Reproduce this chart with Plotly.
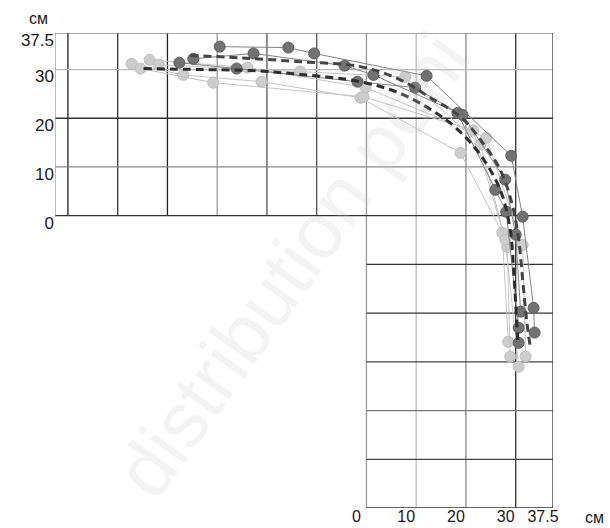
import plotly.graph_objects as go

# ---- data (cm) ----
tick_vals = [0, 10, 20, 30, 37.5]
tick_text = ["0", "10", "20", "30", "37.5"]

dark1_x = [-29.5, -15.7, -10.5, 12.1, 29.1, 31.4, 33.6, 33.8]
dark1_y = [34.7, 34.5, 33.3, 28.7, 12.3, -0.2, -18.9, -24.0]
dark2_x = [-37.6, -26.1, -1.8, 9.8, 18.3, 25.9, 28.1, 30.6, 30.6]
dark2_y = [31.4, 30.2, 27.5, 26.3, 21.1, 5.3, 0.8, -23.0, -26.1]
dark3_x = [-34.8, -22.7, -4.4, 1.4, 19.3, 27.9, 30.0, 31.0]
dark3_y = [32.2, 33.3, 30.8, 28.9, 20.7, 7.4, -3.9, -19.7]

light1_x = [-47.2, -36.8, -21.1, -1.2, 18.9, 27.3, 28.5]
light1_y = [31.2, 28.9, 27.5, 24.2, 12.9, -3.5, -25.9]
light2_x = [-45.4, -30.8, -0.6, 21.5, 28.3, 28.9]
light2_y = [30.2, 27.3, 24.4, 17.5, -6.4, -28.9]
light3_x = [-43.6, -23.9, -0.2, 24.1, 31.4, 32.0]
light3_y = [32.0, 30.4, 26.3, 16.0, -6.0, -28.9]
light4_x = [-41.8, -13.3, 7.8, 22.9, 27.9, 30.6]
light4_y = [31.0, 29.6, 28.5, 14.6, -4.9, -31.0]

meanA_x = [-35.4, -25.3, -13.3, -1.2, 6.8, 12.9, 18.9, 22.9, 26.9, 29.3, 30.6, 31.4, 32.2, 33.0]
meanA_y = [32.9, 32.4, 31.6, 30.6, 27.9, 24.2, 20.3, 15.6, 9.4, 2.3, -4.9, -13.1, -21.4, -27.5]
meanB_x = [-44.8, -33.4, -23.3, -13.3, -1.2, 6.8, 12.9, 17.9, 22.9, 26.9, 28.9, 29.7, 30.4]
meanB_y = [30.2, 30.0, 29.8, 29.0, 27.5, 25.1, 21.8, 18.1, 12.5, 5.3, -2.9, -13.1, -25.5]

# grid
x_min, x_max = -62.6, 37.5
y_min, y_max = -60.0, 37.5
top_vlines = [-60, -50, -40, -30, -20, -10]
top_vcolors = ["#222", "#333", "#222", "#999", "#555", "#555"]
full_vlines = [0, 10, 20, 30]
full_vcolors = ["#999", "#bbb", "#888", "#333"]
top_hlines = [10, 20, 30]
top_hcolors = ["#888", "#333", "#bbb"]
bot_hlines = [-10, -20, -30, -40, -50]
bot_hcolors = ["#333", "#333", "#444", "#777", "#444"]

fig = go.Figure()

shapes = []
def seg(x0, y0, x1, y1, c, w=1.3):
    shapes.append(dict(type="line", xref="x", yref="y", x0=x0, y0=y0, x1=x1, y1=y1,
                       line=dict(color=c, width=w), layer="below"))

for v, c in zip(top_vlines, top_vcolors):
    seg(v, 0, v, y_max, c)
for v, c in zip(full_vlines, full_vcolors):
    seg(v, y_min, v, y_max, c)
for h, c in zip(top_hlines, top_hcolors):
    seg(x_min, h, x_max, h, c)
seg(x_min, 0, x_max, 0, "#333")
for h, c in zip(bot_hlines, bot_hcolors):
    seg(0, h, x_max, h, c)
# borders
seg(x_min, 0, x_min, y_max, "#999")
seg(x_min, y_max, x_max, y_max, "#888")
seg(x_max, y_min, x_max, y_max, "#333")
seg(0, y_min, x_max, y_min, "#333")

light_sets = [(light1_x, light1_y), (light2_x, light2_y), (light3_x, light3_y), (light4_x, light4_y)]
dark_sets = [(dark1_x, dark1_y), (dark2_x, dark2_y), (dark3_x, dark3_y)]

for xs, ys in light_sets:
    fig.add_trace(go.Scatter(x=xs, y=ys, mode="lines+markers", cliponaxis=False,
                             line=dict(color="#c4c4c4", width=1),
                             marker=dict(size=11, color="#cdcdcd", line=dict(color="#bdbdbd", width=1))))
for xs, ys in dark_sets:
    fig.add_trace(go.Scatter(x=xs, y=ys, mode="lines+markers", cliponaxis=False,
                             line=dict(color="#858585", width=1),
                             marker=dict(size=11, color="#727272", line=dict(color="#5e5e5e", width=1))))

fig.add_trace(go.Scatter(x=meanB_x, y=meanB_y, mode="lines",
                         line=dict(color="#2e2e2e", width=3, dash="8px,5px", shape="spline")))
fig.add_trace(go.Scatter(x=meanA_x, y=meanA_y, mode="lines",
                         line=dict(color="#444444", width=3, dash="8px,5px", shape="spline")))

font = dict(family="Arial, Liberation Sans, sans-serif", size=17, color="#1a1a1a")
xfont = dict(family="Arial, Liberation Sans, sans-serif", size=16, color="#1a1a1a")

fig.update_layout(
    width=610, height=528,
    margin=dict(l=55, r=57, t=33, b=20, autoexpand=False),
    paper_bgcolor="white", plot_bgcolor="white",
    showlegend=False,
    shapes=shapes,
    font=font,
    xaxis=dict(range=[x_min, x_max], showgrid=False, zeroline=False, showline=False,
               tickvals=tick_vals, ticktext=tick_text, ticks="", ticklabelshift=-10,
               ticklabelstandoff=-3, automargin=False, tickfont=xfont),
    yaxis=dict(range=[y_min, y_max], showgrid=False, zeroline=False, showline=False,
               tickvals=tick_vals, ticktext=tick_text, ticks="", ticklabelshift=7,
               ticklabelstandoff=0, automargin=False, tickfont=font),
    annotations=[
        dict(text="см", xref="paper", yref="paper", x=-0.034, y=1.03,
             xanchor="center", yanchor="middle", showarrow=False, font=xfont),
        dict(text="см", xref="paper", yref="paper", x=1.084, y=-0.02,
             xanchor="center", yanchor="middle", showarrow=False, font=xfont),
        dict(text="distribution pohi", xref="paper", yref="paper", x=0.476, y=0.512,
             xanchor="center", yanchor="middle", showarrow=False, textangle=-54.5,
             font=dict(family="Arial, Liberation Sans, sans-serif", size=78,
                       color="rgba(200,200,200,0.22)")),
    ],
)

fig.write_html("out.html", config={"displayModeBar": False},
               post_script="document.body.style.margin='0';document.body.style.overflow='hidden';")
